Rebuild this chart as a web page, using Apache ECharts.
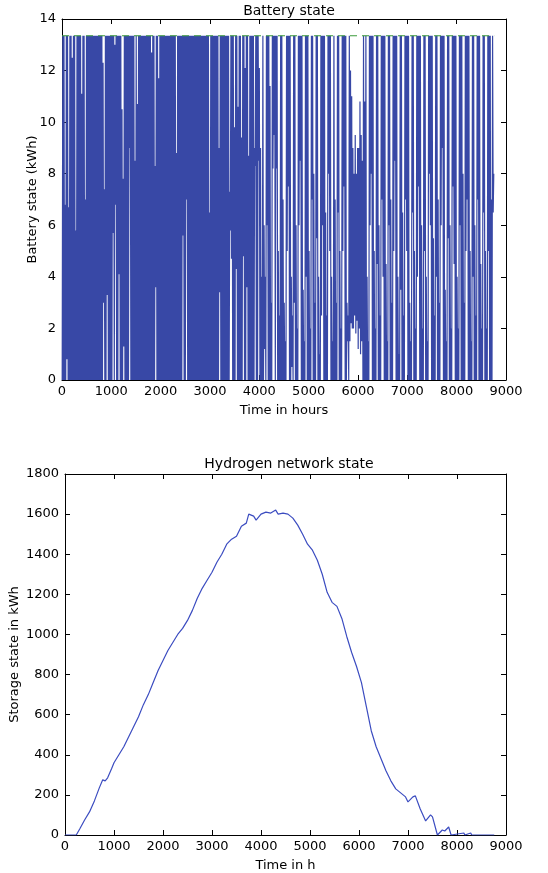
<!DOCTYPE html>
<html><head><meta charset="utf-8">
<script src="https://cdn.jsdelivr.net/npm/echarts@6/dist/echarts.min.js"></script>
<style>html,body{margin:0;padding:0;background:#fff}#c{width:548px;height:873px}</style>
</head><body><div id="c"></div>
<script>
const F = 13.35; // battery capacity (kWh)
// daily maximum battery state (kWh), days 0..364
const batteryMax = [
F,F,6.8,F,F,6.7,F,F,12.5,F,
F,5.8,F,F,F,F,11.1,F,F,7.0,
F,F,F,F,F,F,F,F,F,F,
F,F,F,F,12.3,7.4,F,F,F,F,
F,F,F,F,13.0,F,F,F,F,F,
10.5,7.8,F,F,F,F,F,F,F,F,
F,8.5,F,10.7,F,F,F,F,F,F,
F,F,F,F,F,12.7,F,F,8.3,F,
F,11.7,F,F,F,F,F,F,F,F,
F,F,F,F,F,F,8.8,F,F,F,
F,F,F,F,F,F,F,F,F,F,
F,F,F,F,F,F,F,F,F,F,
F,F,F,F,6.5,F,F,F,F,F,
F,F,9.0,F,F,F,F,F,F,F,
F,7.3,F,F,F,9.8,F,F,10.6,F,
F,9.4,F,F,12.1,F,F,8.7,F,F,
F,F,9.0,F,F,F,12.1,9.0,4.0,F,
6.0,4.0,F,F,F,11.4,3.0,F,F,F,
F,F,5.0,2.5,F,F,7.0,3.0,1.5,F,
F,F,F,4.0,2.5,F,F,6.0,2.0,F,
F,F,F,3.5,1.5,F,F,F,5.0,2.0,
F,F,8.0,3.0,F,F,4.0,1.0,F,F,
F,F,6.5,2.5,F,F,F,4.0,1.5,F,
7.0,3.0,F,F,5.0,2.0,F,F,F,F,
3.0,2.5,F,12.0,11.0,9.0,8.0,9.5,8.0,9.0,
9.0,10.8,9.5,8.5,F,10.8,F,4.0,1.5,F,
F,F,F,5.0,2.0,F,F,6.0,2.5,F,
F,F,F,4.5,1.5,F,F,7.0,3.0,F,
F,F,F,4.0,1.0,F,F,6.5,2.5,F,
F,F,F,3.0,1.5,F,F,5.0,2.0,F,
F,F,F,6.0,2.0,F,F,4.0,1.5,F,
F,F,F,5.5,2.5,F,F,7.0,3.0,F,
F,F,F,3.5,1.5,F,F,6.0,2.0,F,
F,F,F,4.0,2.0,F,F,F,8.0,3.0,
F,F,F,F,5.0,1.5,F,F,6.0,2.5,
F,F,F,4.5,2.0,F,F,5.0,2.0,F,
F,F,7.0,F,8.0
];
// daily minimum battery state (kWh), days 0..364
const batteryMin = [
0,0,0,0,0.8,0,0,0,0,0,
0,0,0,0,0,0,0,0,0,0,
0,0,0,0,0,0,0,0,0,0,
0,0,0,0,0,3.0,0,0,3.3,0,
0,0,0,5.7,0,6.8,0,0,4.1,0,
0,0,1.3,0,0,0,0,9.0,0,0,
0,0,0,0,0,0,0,0,0,0,
0,0,0,0,0,0,0,0,0,3.6,
0,0,0,0,0,0,0,0,0,0,
0,0,0,0,0,0,0,0,0,0,
0,0,5.6,0,0,7.0,0,0,0,0,
0,0,0,0,0,0,0,0,0,0,
0,0,0,0,0,0,0,0,0,0,
0,0,0,3.4,0,0,0,0,0,0,
0,0,5.8,4.7,0,0,0,4.3,0,0,
0,0,0,4.8,0,0,3.6,0,0,0,
0,0,0,8.3,0,0,8.5,0,0,0,
0,1.2,0,6.0,0,0,0,0,8.2,9.5,
0,8.2,0,0,0,0,0,0,0,0,
5.0,7.5,0,0,0.5,0,3.0,0,0,0,
6.0,8.5,0,0,0,0,4.0,0,0,0,
0,7.0,0,0,0,5.5,0,0,0,2.5,
6.0,0,0,0,0,8.0,5.0,0,0,0,
0,0,0,6.5,0,0,0,5.0,7.5,0,
0,1.5,0,1.5,2.2,2.0,2.0,2.5,1.8,2.3,
1.2,2.0,1.0,1.5,0,0,0,0,0,0,
6.0,8.0,0,0,0,0,4.5,0,0,0,
7.0,4.0,0,0,0,0,6.0,0,0,0,
5.0,8.5,0,0,0,0,3.5,0,0,0,
7.0,5.0,0,0,0,0,6.5,0,0,0,
4.0,7.5,0,0,0,0,5.0,0,0,0,
8.0,6.0,0,0,0,0,4.0,0,0,0,
6.0,9.0,0,0,0,0,5.5,0,0,0,
7.5,4.5,0,0,0,0,6.0,0,0,0,
0,5.0,7.0,0,0,0,0,4.0,0,0,
0,7.0,0,0,0,0,6.5,0,0,0,
5.0,0,0,0,6.5
];
// hydrogen storage (kWh) sampled at these hours
const hydrogenHours = [0,230,300,400,500,600,700,770,820,870,950,1000,1100,1200,1300,1400,1500,1600,1700,1800,1900,2000,2100,2200,2300,2400,2500,2600,2700,2800,2900,3000,3100,3200,3300,3400,3500,3600,3700,3750,3850,3900,4000,4100,4200,4300,4350,4450,4550,4650,4750,4850,4950,5050,5150,5250,5350,5450,5550,5650,5750,5850,5950,6050,6150,6250,6350,6450,6550,6650,6750,6850,6950,7000,7100,7150,7250,7360,7460,7500,7600,7700,7750,7830,7880,8140,8160,8280,8300,8760];
const hydrogenState = [0,0,30,75,115,170,235,275,270,285,330,360,400,440,490,540,590,650,700,760,820,870,920,960,1000,1030,1070,1120,1180,1230,1270,1310,1360,1400,1450,1475,1490,1540,1555,1600,1590,1570,1600,1610,1605,1620,1600,1605,1600,1580,1545,1500,1450,1420,1370,1300,1210,1160,1140,1080,990,910,840,760,640,520,440,380,320,270,230,210,190,165,190,195,130,70,100,90,0,25,20,40,0,10,0,10,0,0];
const hoursPerYear = 8760;

const batteryData = [];
for (let d = 0; d < batteryMax.length; d++) {
  batteryData.push([d * 24 + 4, batteryMin[d]]);
  batteryData.push([d * 24 + 16, batteryMax[d]]);
}
const hydrogenData = hydrogenHours.map((h, i) => [h, hydrogenState[i]]);

const font = 'DejaVu Sans';
const txt = {color: '#000', fontFamily: font, fontSize: 13};
const plain = v => String(v);
function xa(grid, name, show) {
  return {type: 'value', gridIndex: grid, min: 0, max: 9000, interval: 1000,
    position: show ? 'bottom' : 'top',
    name: show ? name : '', nameLocation: 'middle', nameGap: 24,
    nameTextStyle: txt, nameMoveOverlap: false,
    axisLine: {show: true, onZero: false, lineStyle: {color: '#000', width: 1}},
    axisTick: {show: true, inside: true, length: 5, lineStyle: {color: '#000'}},
    axisLabel: {show: show, margin: 5, formatter: plain, ...txt},
    splitLine: {show: false}};
}
function ya(grid, max, interval, name, gap, show) {
  return {type: 'value', gridIndex: grid, min: 0, max: max, interval: interval,
    position: show ? 'left' : 'right',
    name: show ? name : '', nameLocation: 'middle', nameGap: gap,
    nameTextStyle: txt, nameMoveOverlap: false,
    axisLine: {show: true, onZero: false, lineStyle: {color: '#000', width: 1}},
    axisTick: {show: true, inside: true, length: 5, lineStyle: {color: '#000'}},
    axisLabel: {show: show, margin: 6, formatter: plain, ...txt},
    splitLine: {show: false}};
}
const chart = echarts.init(document.getElementById('c'), null, {renderer: 'canvas'});
chart.setOption({
  animation: false,
  backgroundColor: '#fff',
  title: [
    {text: 'Battery state', left: 284, top: -1, textAlign: 'center', textStyle: {...txt, fontWeight: 'normal', fontSize: 14}},
    {text: 'Hydrogen network state', left: 284, top: 452, textAlign: 'center', textStyle: {...txt, fontWeight: 'normal', fontSize: 14}}
  ],
  grid: [
    {left: 62, top: 19, width: 444, height: 361},
    {left: 62, top: 474, width: 444, height: 362}
  ],
  xAxis: [xa(0, 'Time in hours', true), xa(0, '', false), xa(1, 'Time in h', true), xa(1, '', false)],
  yAxis: [ya(0, 14, 2, 'Battery state (kWh)', 23, true), ya(0, 14, 2, '', 0, false),
          ya(1, 1800, 200, 'Storage state in kWh', 44, true), ya(1, 1800, 200, '', 0, false)],
  series: [
    {type: 'line', xAxisIndex: 0, yAxisIndex: 0, data: batteryData, showSymbol: false,
     sampling: null, lineStyle: {color: '#3848a6', width: 1.2}, z: 2},
    {type: 'line', xAxisIndex: 0, yAxisIndex: 0, data: [[0, F], [hoursPerYear, F]], showSymbol: false,
     lineStyle: {color: '#3a9a3a', width: 1, type: [7, 5]}, z: 3},
    {type: 'line', xAxisIndex: 2, yAxisIndex: 2, data: hydrogenData, showSymbol: false,
     lineStyle: {color: '#3b4cc0', width: 1.2}}
  ]
});
</script></body></html>
